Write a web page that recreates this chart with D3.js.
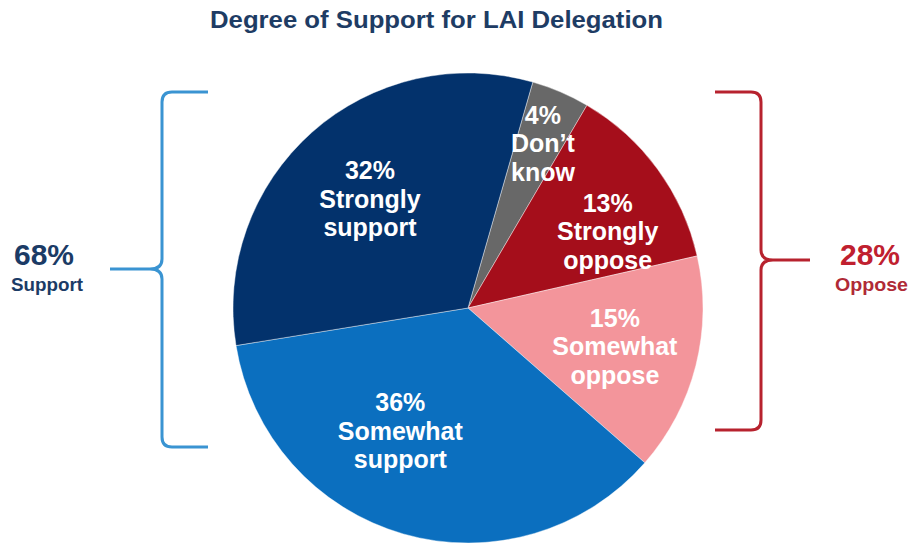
<!DOCTYPE html>
<html>
<head>
<meta charset="utf-8">
<script src="https://cdn.jsdelivr.net/npm/d3@7/dist/d3.min.js"></script>
<style>
  html, body { margin: 0; padding: 0; background: #ffffff; }
  svg { display: block; }
  text { font-family: "Liberation Sans", Arial, sans-serif; font-weight: bold; }
</style>
</head>
<body>
<svg id="chart" width="910" height="544"></svg>
<script>
// Survey responses, clockwise from just right of twelve o'clock
const categories = ["Don’t know", "Strongly oppose", "Somewhat oppose", "Somewhat support", "Strongly support"];
const values = [4, 13, 15, 36, 32];
const labelLines = [["Don’t", "know"], ["Strongly", "oppose"], ["Somewhat", "oppose"], ["Somewhat", "support"], ["Strongly", "support"]];

// Summary groups shown beside the braces
const groupNames = ["Support", "Oppose"];
const groupMembers = [["Somewhat support", "Strongly support"], ["Strongly oppose", "Somewhat oppose"]];

const title = "Degree of Support for LAI Delegation";

// ---- styling / layout ----
const W = 910, H = 544;
const cx = 468, cy = 308, R = 235;
const startDeg = 16;
const sliceColors = {
  "Don’t know": "#686868",
  "Strongly oppose": "#a50e1b",
  "Somewhat oppose": "#f3959b",
  "Somewhat support": "#0b6fbf",
  "Strongly support": "#03326c"
};
// label placement: angular nudge (deg) from slice bisector and distance from centre
const labelPlace = {
  "Don’t know": { shift: 1.4, r: 180 },
  "Strongly oppose": { shift: 7.7, r: 159 },
  "Somewhat oppose": { shift: 0.7, r: 152 },
  "Somewhat support": { shift: 12.7, r: 141 },
  "Strongly support": { shift: -0.6, r: 146 }
};
const lineGap = 28.5;

const svg = d3.select("#chart");

svg.append("text")
  .attr("x", 436.5).attr("y", 28)
  .attr("text-anchor", "middle")
  .attr("font-size", 23)
  .attr("fill", "#1e3c64")
  .attr("textLength", 453)
  .attr("lengthAdjust", "spacingAndGlyphs")
  .text(title);

const rad = d => d * Math.PI / 180;
const pie = d3.pie().sort(null).value(d => d.value)
  .startAngle(rad(startDeg)).endAngle(rad(startDeg) + 2 * Math.PI);
const arc = d3.arc().innerRadius(0).outerRadius(R);

const data = categories.map((c, i) => ({ cat: c, value: values[i], lines: labelLines[i] }));
const arcs = pie(data);

const g = svg.append("g").attr("transform", `translate(${cx},${cy})`);

g.selectAll("path.slice")
  .data(arcs)
  .join("path")
  .attr("class", "slice")
  .attr("d", arc)
  .attr("fill", d => sliceColors[d.data.cat])
  .attr("stroke", "#ffffff")
  .attr("stroke-width", 0.6)
  .attr("stroke-opacity", 0.7);

const labels = g.selectAll("g.lbl")
  .data(arcs)
  .join("g")
  .attr("class", "lbl")
  .attr("transform", d => {
    const p = labelPlace[d.data.cat];
    const a = (d.startAngle + d.endAngle) / 2 + rad(p.shift);
    return `translate(${Math.sin(a) * p.r},${-Math.cos(a) * p.r})`;
  });

labels.each(function (d) {
  const rows = [d.data.value + "%", ...d.data.lines];
  d3.select(this).selectAll("text")
    .data(rows)
    .join("text")
    .attr("x", 0)
    .attr("y", (t, i) => (i - 1) * lineGap + 8)
    .attr("text-anchor", "middle")
    .attr("font-size", 25)
    .attr("fill", "#ffffff")
    .text(t => t);
});

// ---- braces and group totals ----
const total = name => d3.sum(groupMembers[groupNames.indexOf(name)], c => values[categories.indexOf(c)]);

function brace(xLine, xEnd, xTip, yTop, yMid, yBot) {
  const dir = Math.sign(xEnd - xLine);   // side the arms point to
  const tdir = Math.sign(xTip - xLine);  // side the tip points to
  const r = 10;
  const p = d3.path();
  p.moveTo(xEnd, yTop);
  p.lineTo(xLine + dir * r, yTop);
  p.quadraticCurveTo(xLine, yTop, xLine, yTop + r);
  p.lineTo(xLine, yMid - r);
  p.quadraticCurveTo(xLine, yMid, xLine + tdir * r * 1.2, yMid);
  p.lineTo(xTip, yMid);
  p.moveTo(xLine + tdir * r * 1.2, yMid);
  p.quadraticCurveTo(xLine, yMid, xLine, yMid + r);
  p.lineTo(xLine, yBot - r);
  p.quadraticCurveTo(xLine, yBot, xLine + dir * r, yBot);
  p.lineTo(xEnd, yBot);
  return p.toString();
}

svg.append("path")
  .attr("d", brace(162, 208, 110, 92, 269, 447))
  .attr("fill", "none")
  .attr("stroke", "#3a94d2")
  .attr("stroke-width", 3)
  .attr("stroke-linejoin", "round");

svg.append("path")
  .attr("d", brace(761, 715, 810, 92, 260, 430))
  .attr("fill", "none")
  .attr("stroke", "#b7222e")
  .attr("stroke-width", 3)
  .attr("stroke-linejoin", "round");

// Support summary
svg.append("text")
  .attr("x", 44).attr("y", 265)
  .attr("text-anchor", "middle")
  .attr("font-size", 30)
  .attr("fill", "#1b3b66")
  .text(total("Support") + "%");
svg.append("text")
  .attr("x", 47).attr("y", 291)
  .attr("text-anchor", "middle")
  .attr("font-size", 18)
  .attr("fill", "#1b3b66")
  .attr("textLength", 72)
  .attr("lengthAdjust", "spacingAndGlyphs")
  .text("Support");

// Oppose summary
svg.append("text")
  .attr("x", 870).attr("y", 265)
  .attr("text-anchor", "middle")
  .attr("font-size", 30)
  .attr("fill", "#c0202f")
  .text(total("Oppose") + "%");
svg.append("text")
  .attr("x", 871.5).attr("y", 291)
  .attr("text-anchor", "middle")
  .attr("font-size", 19)
  .attr("fill", "#b02a36")
  .attr("textLength", 73)
  .attr("lengthAdjust", "spacingAndGlyphs")
  .text("Oppose");
</script>
</body>
</html>
